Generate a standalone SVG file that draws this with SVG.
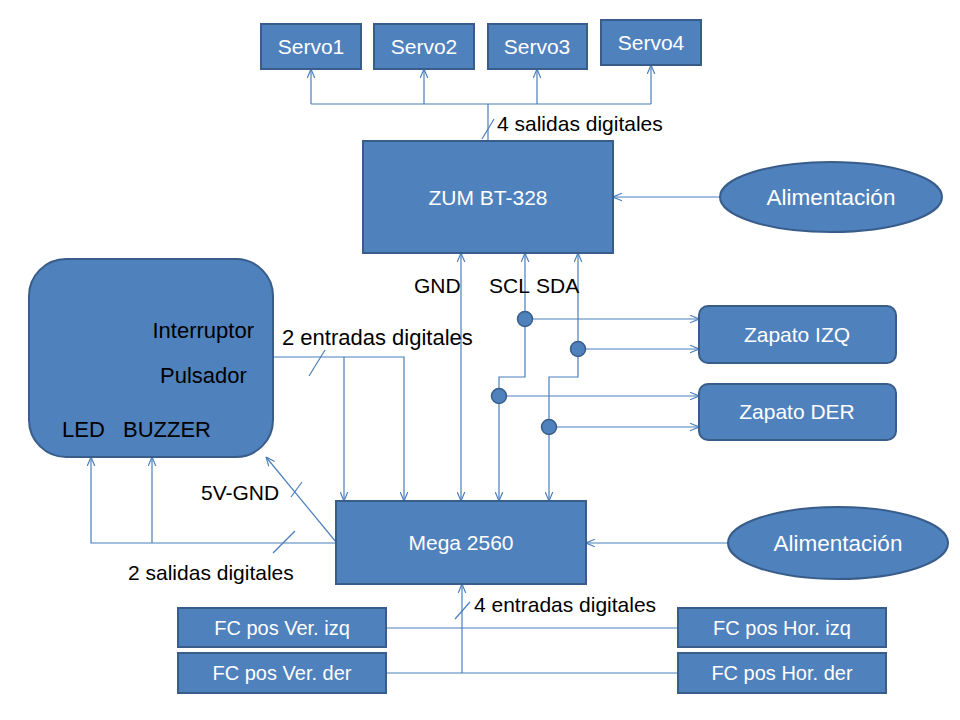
<svg xmlns="http://www.w3.org/2000/svg" width="960" height="720" viewBox="0 0 960 720">
<defs>
<style>
.box{fill:#4F81BD;stroke:#385D8A;stroke-width:2}
.wt{font-family:"Liberation Sans",Arial,sans-serif;font-size:21px;fill:#FFFFFF;text-anchor:middle}
.bt{font-family:"Liberation Sans",Arial,sans-serif;font-size:21px;fill:#000000}
.fc{font-size:20px}
.al{font-size:22.5px}
.pn{font-size:22px}
.cn{fill:none;stroke:#4A7EBB;stroke-width:1.2}
.dot{fill:#4F81BD;stroke:#385D8A;stroke-width:1.5}
</style>
<marker id="arr" viewBox="0 0 10 10" refX="10" refY="5" markerWidth="9" markerHeight="9" markerUnits="userSpaceOnUse" orient="auto-start-reverse">
<path d="M0,0.8 L10,5 L0,9.2" fill="none" stroke="#4A7EBB" stroke-width="1.3"/>
</marker>
</defs>
<rect width="960" height="720" fill="#FFFFFF"/>

<g id="connectors">
<path class="cn" d="M311,104 H651"/>
<path class="cn" d="M311,104 V69" marker-end="url(#arr)"/>
<path class="cn" d="M424,104 V69" marker-end="url(#arr)"/>
<path class="cn" d="M537,104 V69" marker-end="url(#arr)"/>
<path class="cn" d="M651,104 V65" marker-end="url(#arr)"/>
<path class="cn" d="M488,104 V141"/>
<path class="cn" d="M482,139 L494,119"/>
<path class="cn" d="M720,197 H613" marker-end="url(#arr)"/>
<path class="cn" d="M461,253 V501" marker-start="url(#arr)" marker-end="url(#arr)"/>
<path class="cn" d="M525,253 V377 H499 V501" marker-start="url(#arr)" marker-end="url(#arr)"/>
<path class="cn" d="M578,253 V377 H549 V501" marker-start="url(#arr)" marker-end="url(#arr)"/>
<path class="cn" d="M525,319 H699" marker-end="url(#arr)"/>
<path class="cn" d="M578,349 H699" marker-end="url(#arr)"/>
<path class="cn" d="M499,396 H699" marker-end="url(#arr)"/>
<path class="cn" d="M549,427 H699" marker-end="url(#arr)"/>
<path class="cn" d="M273,357 H404 V501" marker-end="url(#arr)"/>
<path class="cn" d="M344,357 V501" marker-end="url(#arr)"/>
<path class="cn" d="M309,376 L325,350"/>
<path class="cn" d="M336,542 L266,457" marker-end="url(#arr)"/>
<path class="cn" d="M291,497 L302,482"/>
<path class="cn" d="M336,543 H91 V457" marker-end="url(#arr)"/>
<path class="cn" d="M152,543 V457" marker-end="url(#arr)"/>
<path class="cn" d="M273,553 L295,531"/>
<path class="cn" d="M728,543 H586" marker-end="url(#arr)"/>
<path class="cn" d="M386,628 H678"/>
<path class="cn" d="M386,673 H678"/>
<path class="cn" d="M462,673 V584" marker-end="url(#arr)"/>
<path class="cn" d="M455,619 L470,602"/>
<circle class="dot" cx="525" cy="319" r="7.5"/>
<circle class="dot" cx="578" cy="349" r="7.5"/>
<circle class="dot" cx="499" cy="396" r="7.5"/>
<circle class="dot" cx="549" cy="427" r="7.5"/>
</g>

<g id="servo1"><rect class="box" x="261" y="24" width="100" height="45"/><text class="wt" x="311" y="54">Servo1</text></g>
<g id="servo2"><rect class="box" x="374" y="24" width="100" height="45"/><text class="wt" x="424" y="54">Servo2</text></g>
<g id="servo3"><rect class="box" x="488" y="24" width="99" height="45"/><text class="wt" x="537" y="54">Servo3</text></g>
<g id="servo4"><rect class="box" x="601" y="20" width="100" height="45"/><text class="wt" x="651" y="50">Servo4</text></g>

<g id="zum"><rect class="box" x="363" y="141" width="250" height="112"/><text class="wt" x="488" y="205">ZUM BT-328</text></g>
<g id="alim1"><ellipse class="box" cx="831" cy="197" rx="111" ry="35"/><text class="wt al" x="831" y="205">Alimentación</text></g>

<g id="panel">
<rect class="box" x="29" y="259" width="244" height="198" rx="37" ry="37"/>
<text class="bt pn" x="254" y="338" text-anchor="end">Interruptor</text>
<text class="bt pn" x="160" y="383">Pulsador</text>
<text class="bt pn" x="62" y="437">LED</text>
<text class="bt pn" x="123" y="437">BUZZER</text>
</g>

<g id="zapato-izq"><rect class="box" x="699" y="306" width="197" height="57" rx="9" ry="9"/><text class="wt" x="797" y="342">Zapato IZQ</text></g>
<g id="zapato-der"><rect class="box" x="699" y="384" width="197" height="56" rx="9" ry="9"/><text class="wt" x="797" y="419">Zapato DER</text></g>

<g id="mega"><rect class="box" x="336" y="501" width="250" height="83"/><text class="wt" x="461" y="550">Mega 2560</text></g>
<g id="alim2"><ellipse class="box" cx="838" cy="543" rx="110" ry="36"/><text class="wt al" x="838" y="551">Alimentación</text></g>

<g id="fc-ver-izq"><rect class="box" x="178" y="608" width="208" height="39"/><text class="wt fc" x="282" y="635">FC pos Ver. izq</text></g>
<g id="fc-ver-der"><rect class="box" x="178" y="653" width="208" height="40"/><text class="wt fc" x="282" y="680">FC pos Ver. der</text></g>
<g id="fc-hor-izq"><rect class="box" x="678" y="608" width="208" height="39"/><text class="wt fc" x="782" y="635">FC pos Hor. izq</text></g>
<g id="fc-hor-der"><rect class="box" x="678" y="653" width="208" height="40"/><text class="wt fc" x="782" y="680">FC pos Hor. der</text></g>

<g id="labels">
<text class="bt" x="497" y="131">4 salidas digitales</text>
<text class="bt" x="414" y="293">GND</text>
<text class="bt" x="489" y="293">SCL</text>
<text class="bt" x="536" y="293">SDA</text>
<text class="bt" x="282" y="345" style="font-size:22px">2 entradas digitales</text>
<text class="bt" x="201" y="500">5V-GND</text>
<text class="bt" x="128" y="580">2 salidas digitales</text>
<text class="bt" x="474" y="612">4 entradas digitales</text>
</g>
</svg>
